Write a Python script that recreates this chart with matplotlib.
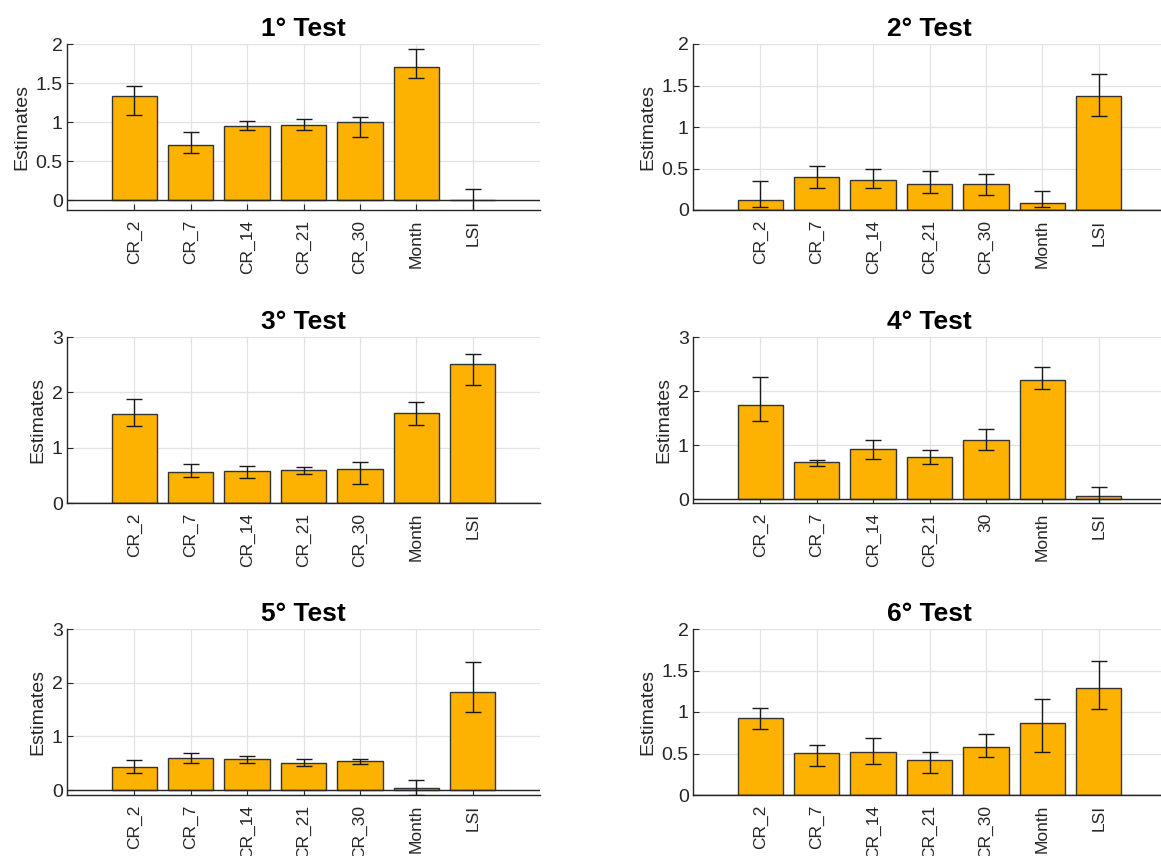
import numpy as np
import matplotlib.pyplot as plt

plt.rcParams['font.family'] = ['Liberation Sans', 'DejaVu Sans']

labels = ['CR_2', 'CR_7', 'CR_14', 'CR_21', 'CR_30', 'Month', 'LSI']
labels_4 = ['CR_2', 'CR_7', 'CR_14', 'CR_21', '30', 'Month', 'LSI']
titles = ['1° Test', '2° Test', '3° Test', '4° Test', '5° Test', '6° Test']

# estimates and confidence bounds per test
est_1 = [1.336, 0.706, 0.949, 0.966, 1.000, 1.706, 0.003]
low_1 = [1.098, 0.609, 0.898, 0.898, 0.817, 1.562, -0.132]
high_1 = [1.460, 0.877, 1.021, 1.038, 1.072, 1.940, 0.145]

est_2 = [0.120, 0.400, 0.360, 0.313, 0.313, 0.088, 1.375]
low_2 = [0.036, 0.265, 0.260, 0.208, 0.180, 0.032, 1.138]
high_2 = [0.353, 0.533, 0.493, 0.473, 0.429, 0.224, 1.643]

est_3 = [1.605, 0.561, 0.585, 0.597, 0.622, 1.623, 2.517]
low_3 = [1.400, 0.471, 0.453, 0.531, 0.338, 1.412, 2.130]
high_3 = [1.871, 0.700, 0.676, 0.658, 0.736, 1.817, 2.692]

est_4 = [1.738, 0.680, 0.928, 0.779, 1.095, 2.195, 0.062]
low_4 = [1.447, 0.618, 0.742, 0.643, 0.909, 2.028, -0.087]
high_4 = [2.251, 0.730, 1.100, 0.915, 1.293, 2.437, 0.216]

est_5 = [0.432, 0.605, 0.574, 0.506, 0.543, 0.043, 1.821]
low_5 = [0.309, 0.512, 0.512, 0.444, 0.488, -0.093, 1.457]
high_5 = [0.556, 0.691, 0.642, 0.574, 0.586, 0.185, 2.389]

est_6 = [0.926, 0.511, 0.519, 0.419, 0.583, 0.862, 1.285]
low_6 = [0.794, 0.347, 0.371, 0.263, 0.463, 0.515, 1.042]
high_6 = [1.054, 0.607, 0.683, 0.515, 0.731, 1.162, 1.617]

panels = [
    (est_1, low_1, high_1, labels, (-0.123, 2), [0, 0.5, 1, 1.5, 2]),
    (est_2, low_2, high_2, labels, (0, 2), [0, 0.5, 1, 1.5, 2]),
    (est_3, low_3, high_3, labels, (0, 3), [0, 1, 2, 3]),
    (est_4, low_4, high_4, labels_4, (-0.074, 3), [0, 1, 2, 3]),
    (est_5, low_5, high_5, labels, (-0.093, 3), [0, 1, 2, 3]),
    (est_6, low_6, high_6, labels, (0, 2), [0, 0.5, 1, 1.5, 2]),
]

W, H = 1161, 856
fig = plt.figure(figsize=(W / 100, H / 100), dpi=100)

col_x = [67, 693]
col_w = 473
row_top = [44, 337, 629]
row_h = 166

axis_col = '#262626'
x = np.arange(1, 8)

for i, (est, lo, hi, labs, ylim, yt) in enumerate(panels):
    r, c = divmod(i, 2)
    ax = fig.add_axes([col_x[c] / W, 1 - (row_top[r] + row_h) / H,
                       col_w / W, row_h / H])
    est = np.array(est)
    yerr = [est - np.array(lo), np.array(hi) - est]
    ax.bar(x, est, width=0.8, color='#FDB100', edgecolor='#333333',
           linewidth=1.0, zorder=2)
    ax.errorbar(x, est, yerr=yerr, fmt='none', ecolor='#1a1a1a',
                elinewidth=1.0, capsize=6, capthick=1.0, zorder=3)
    ax.axhline(0, color=axis_col, lw=1.0, zorder=2.5)
    ax.set_xlim(-0.19, 8.19)
    ax.set_ylim(*ylim)
    ax.set_yticks(yt)
    ax.set_yticklabels([f'{v:g}' for v in yt])
    ax.set_xticks(x)
    ax.set_xticklabels(labs, rotation=90, fontsize=12.5)
    ax.tick_params(axis='y', labelsize=14, direction='in', length=4,
                   color=axis_col, labelcolor=axis_col, pad=3)
    ax.tick_params(axis='x', direction='in', length=4, color=axis_col,
                   labelcolor=axis_col, pad=7)
    ax.grid(True, color='#e3e3e3', lw=0.9)
    ax.set_axisbelow(True)
    for s in ('top', 'right'):
        ax.spines[s].set_visible(False)
    for s in ('left', 'bottom'):
        ax.spines[s].set_color(axis_col)
        ax.spines[s].set_linewidth(1.0)
    ax.set_ylabel('Estimates', fontsize=14, color=axis_col, labelpad=4)
    ax.set_title(titles[i], fontsize=19, fontweight='bold', pad=6)

fig.savefig('out.png', dpi=100)
